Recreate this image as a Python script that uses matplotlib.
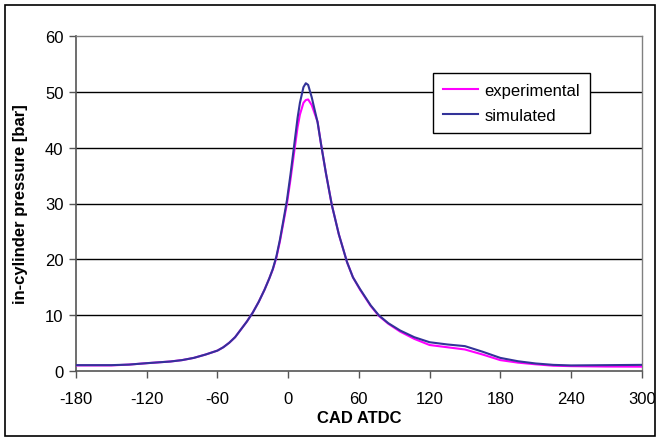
import numpy as np
import matplotlib
matplotlib.use("Agg")
import matplotlib.pyplot as plt
from matplotlib.patches import Rectangle

plt.rcParams['font.family'] = ['Liberation Sans', 'DejaVu Sans']
plt.rcParams['axes.unicode_minus'] = False

# crank angle [deg ATDC]
cad = [-180, -150, -135, -120, -100, -90, -80, -70, -60, -55, -50, -45, -40,
       -35, -30, -25, -20, -16, -13, -10, -7, -4, -1, 2, 5, 8, 10, 13, 15,
       17, 20, 25, 28, 32, 37, 43, 50, 55, 61, 70, 77, 85, 95, 107, 120, 135,
       150, 165, 180, 195, 210, 225, 240, 270, 300]

# in-cylinder pressure [bar]
p_exp = [1.05, 1.05, 1.2, 1.45, 1.75, 2.0, 2.4, 3.0, 3.7, 4.3, 5.1, 6.1, 7.5,
         8.9, 10.5, 12.4, 14.6, 16.6, 18.2, 20.3, 23.2, 26.6, 30.0, 34.3, 39.0,
         43.6, 45.9, 48.0, 48.5, 48.6, 47.6, 44.6, 40.5, 35.5, 29.8, 24.5,
         19.5, 16.8, 14.6, 11.7, 9.9, 8.5, 7.1, 5.8, 4.7, 4.3, 3.9, 3.0, 2.0,
         1.55, 1.25, 1.0, 0.92, 0.85, 0.83]

p_sim = [1.1, 1.1, 1.2, 1.45, 1.75, 2.0, 2.4, 3.0, 3.7, 4.3, 5.1, 6.1, 7.5,
         8.9, 10.5, 12.4, 14.6, 16.6, 18.3, 20.5, 23.5, 27.0, 30.6, 35.2, 40.2,
         45.3, 48.0, 50.8, 51.5, 51.2, 49.0, 44.5, 40.5, 35.5, 29.8, 24.5,
         19.5, 16.8, 14.7, 11.8, 10.0, 8.6, 7.3, 6.1, 5.2, 4.8, 4.5, 3.5, 2.4,
         1.8, 1.4, 1.15, 1.05, 1.1, 1.15]

fig = plt.figure(figsize=(6.59, 4.39), dpi=100)
ax = fig.add_axes([76/659, 1-372.3/439, (641.7-76)/659, (372.3-36.7)/439])

# outer chart border
fig.patches.append(Rectangle((4.5/659, 1-437/439), 650/659, 431/439,
                             transform=fig.transFigure, fill=False,
                             edgecolor='black', linewidth=1.2))

for y in range(10, 60, 10):
    ax.axhline(y, color='black', linewidth=1, zorder=1)

ax.plot(cad, p_exp, color='#FF00FF', linewidth=1.5, label='experimental', zorder=3)
ax.plot(cad, p_sim, color='#333399', linewidth=1.5, label='simulated', zorder=4)

ax.set_xlim(-180, 300)
ax.set_ylim(0, 60)
ax.set_xticks(np.arange(-180, 301, 60))
ax.set_yticks(np.arange(0, 61, 10))
ax.tick_params(direction='out', length=5, width=1, color='#555555',
               labelsize=12, pad=4)
ax.tick_params(axis='x', pad=9)

for side in ['left', 'bottom']:
    ax.spines[side].set_color('#555555')
    ax.spines[side].set_linewidth(1.2)
for side in ['top', 'right']:
    ax.spines[side].set_color('#808080')
    ax.spines[side].set_linewidth(1)

ax.set_xlabel('CAD ATDC', fontsize=12, fontweight='bold', labelpad=3)
ax.set_ylabel('in-cylinder pressure [bar]', fontsize=12, fontweight='bold', labelpad=12)

leg = ax.legend(loc='upper left', bbox_to_anchor=(432.7/659, 1-74/439),
                bbox_transform=fig.transFigure, fontsize=12, fancybox=False,
                frameon=True, framealpha=1, edgecolor='black',
                handlelength=2.1, handletextpad=0.4, borderpad=0.6,
                labelspacing=0.6, borderaxespad=0)
leg.get_frame().set_linewidth(1)
leg.set_zorder(5)

fig.savefig("out.png", dpi=100)
